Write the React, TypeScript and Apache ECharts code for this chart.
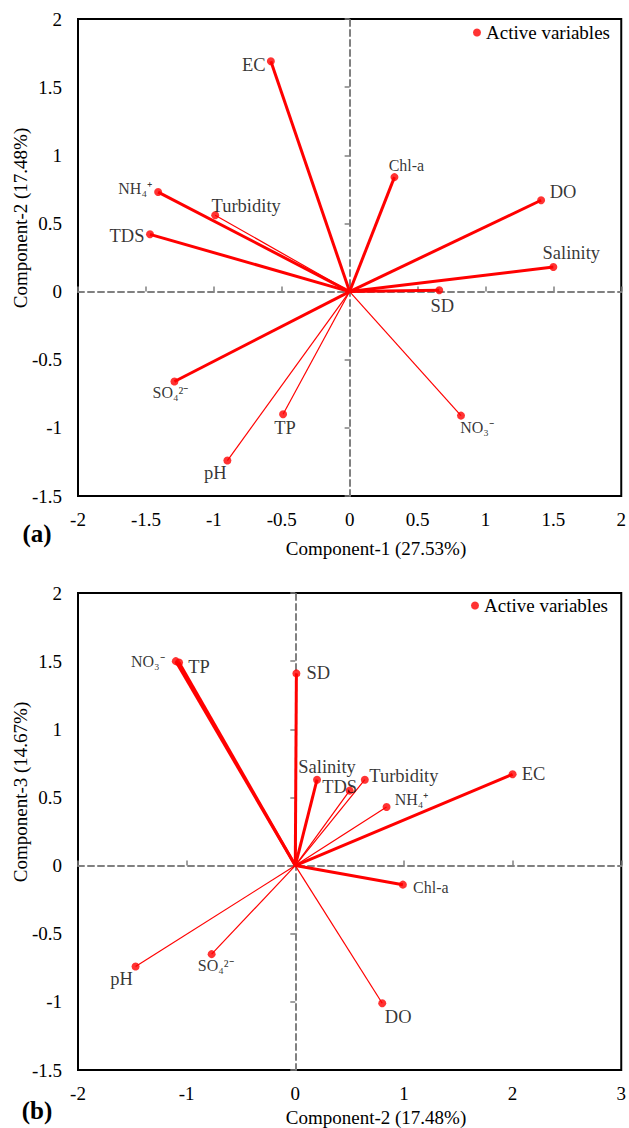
import React, { useEffect, useRef } from "react";
import * as echarts from "echarts";

// ---- Panel (a): Component-1 vs Component-2 ----
const namesA = ["EC", "Chl-a", "DO", "Salinity", "SD", "NO₃⁻", "TP", "pH", "SO₄²⁻", "TDS", "Turbidity", "NH₄⁺"];
const comp1A = [-0.58, 0.33, 1.41, 1.5, 0.66, 0.82, -0.49, -0.9, -1.29, -1.47, -0.99, -1.41];
const comp2A = [1.69, 0.84, 0.67, 0.18, 0.01, -0.91, -0.9, -1.24, -0.66, 0.42, 0.56, 0.73];

// ---- Panel (b): Component-2 vs Component-3 ----
const namesB = ["NO₃⁻", "TP", "SD", "Salinity", "TDS", "Turbidity", "NH₄⁺", "EC", "Chl-a", "SO₄²⁻", "pH", "DO"];
const comp2B = [-1.1, -1.07, 0.01, 0.2, 0.5, 0.64, 0.84, 2.0, 0.99, -0.77, -1.47, 0.8];
const comp3B = [1.5, 1.49, 1.41, 0.63, 0.55, 0.63, 0.43, 0.67, -0.14, -0.65, -0.74, -1.01];

// axis tick settings
const xTicksA = { min: -2, max: 2, interval: 0.5 };
const yTicksA = { min: -1.5, max: 2, interval: 0.5 };
const xTicksB = { min: -2, max: 3, interval: 1 };
const yTicksB = { min: -1.5, max: 2, interval: 0.5 };

const titles = {
  xA: "Component-1 (27.53%)",
  yA: "Component-2 (17.48%)",
  xB: "Component-2 (17.48%)",
  yB: "Component-3 (14.67%)",
  legend: "Active variables",
};

// ---- styles (kept apart from the data) ----
const thickA = [true, true, true, true, true, false, false, false, true, true, false, true];
const thickB = [true, true, true, true, false, false, false, true, true, false, false, false];
const smallA = [false, true, false, false, false, true, false, false, true, false, false, true];
const smallB = [true, false, false, false, false, false, true, false, true, true, false, false];
const offsetsA = [[-17, 4], [12, -12], [22, -8], [18, -14], [3, 16], [16, 12], [2, 14], [-12, 12], [-4, 11], [-23, 2], [31, -9], [-23, -4]];
const offsetsB = [[-28, 0], [20, 4], [22, 0], [10, -13], [-10, -4], [39, -4], [25, -7], [21, 0], [28, 3], [4, 11], [-14, 13], [16, 14]];

const FONT = "'Liberation Serif', 'Times New Roman', serif";
const RED = "#ff0000";
const GRAY = "#808080";

function buildAxes(gridIndex: number, xt: any, yt: any) {
  const labelStyle = { fontSize: 19, fontFamily: FONT, color: "#000" };
  const xAxes = [
    {
      type: "value", gridIndex, position: "bottom", ...xt,
      axisLine: { show: false, onZero: false }, axisTick: { show: false }, splitLine: { show: false },
      axisLabel: { ...labelStyle, margin: 14 },
    },
    {
      type: "value", gridIndex, position: "bottom", ...xt,
      axisLine: { show: true, onZero: true, lineStyle: { color: GRAY, width: 2, type: [6, 4] } },
      axisTick: { show: true, inside: true, length: 5, lineStyle: { color: GRAY, width: 1.5 } },
      axisLabel: { show: false }, splitLine: { show: false },
    },
  ];
  const yAxes = [
    {
      type: "value", gridIndex, position: "left", ...yt,
      axisLine: { show: false, onZero: false }, axisTick: { show: false }, splitLine: { show: false },
      axisLabel: { ...labelStyle, margin: 16 },
    },
    {
      type: "value", gridIndex, position: "left", ...yt,
      axisLine: { show: true, onZero: true, lineStyle: { color: GRAY, width: 2, type: [6, 4] } },
      axisTick: { show: true, inside: false, length: 5, lineStyle: { color: GRAY, width: 1.5 } },
      axisLabel: { show: false }, splitLine: { show: false },
    },
  ];
  return { xAxes, yAxes };
}

function buildSeries(axisIndex: number, names: string[], xs: number[], ys: number[], thick: boolean[], small: boolean[], offs: number[][]) {
  const lines = {
    type: "lines",
    coordinateSystem: "cartesian2d",
    xAxisIndex: axisIndex,
    yAxisIndex: axisIndex,
    z: 3,
    silent: true,
    data: names.map((n, i) => ({
      name: n,
      coords: [[0, 0], [xs[i], ys[i]]],
      lineStyle: { color: RED, width: thick[i] ? 3 : 1.2, opacity: 1 },
    })),
  };
  const pts = {
    type: "scatter",
    name: titles.legend,
    xAxisIndex: axisIndex,
    yAxisIndex: axisIndex,
    z: 4,
    symbol: "circle",
    symbolSize: 8,
    itemStyle: { color: RED },
    label: {
      show: true,
      position: "inside",
      align: "center",
      verticalAlign: "middle",
      color: "#000",
      fontFamily: FONT,
      fontSize: 18.5,
      formatter: (p: any) => p.name,
    },
    data: names.map((n, i) => ({
      name: n,
      value: [xs[i], ys[i]],
      label: { offset: offs[i], fontSize: small[i] ? 16 : 18.5 },
    })),
  };
  return [lines, pts];
}

export default function App() {
  const ref = useRef<HTMLDivElement>(null);
  useEffect(() => {
    if (!ref.current) return;
    const chart = echarts.init(ref.current, undefined, { renderer: "svg" });
    const a = buildAxes(0, xTicksA, yTicksA);
    const b = buildAxes(1, xTicksB, yTicksB);
    const legendBase = {
      data: [titles.legend],
      icon: "circle",
      itemWidth: 8,
      itemHeight: 8,
      padding: 0,
      selectedMode: false,
      textStyle: { fontSize: 19, fontFamily: FONT, color: "#000" },
    };
    const textStyle = (t: string, size: number, bold = false) => ({
      text: t,
      fontSize: size,
      fontFamily: FONT,
      fontWeight: bold ? "bold" : "normal",
      fill: "#000",
      textAlign: "center",
      textVerticalAlign: "middle",
    });
    chart.setOption({
      animation: false,
      backgroundColor: "#fff",
      grid: [
        { left: 78, top: 19, width: 545, height: 477, show: true, borderColor: "#000", borderWidth: 2, backgroundColor: "transparent" },
        { left: 78, top: 593, width: 545, height: 477, show: true, borderColor: "#000", borderWidth: 2, backgroundColor: "transparent" },
      ],
      xAxis: [...a.xAxes, ...b.xAxes],
      yAxis: [...a.yAxes, ...b.yAxes],
      legend: [
        { ...legendBase, left: 473, top: 23 },
        { ...legendBase, left: 471, top: 596 },
      ],
      series: [
        ...buildSeries(0, namesA, comp1A, comp2A, thickA, smallA, offsetsA),
        ...buildSeries(2, namesB, comp2B, comp3B, thickB, smallB, offsetsB),
      ],
      graphic: [
        { type: "text", x: 376, y: 548, style: textStyle(titles.xA, 19) },
        { type: "text", x: 20, y: 218, rotation: Math.PI / 2, style: textStyle(titles.yA, 19) },
        { type: "text", x: 37, y: 533, style: textStyle("(a)", 25, true) },
        { type: "text", x: 376, y: 1117, style: textStyle(titles.xB, 19) },
        { type: "text", x: 20, y: 792, rotation: Math.PI / 2, style: textStyle(titles.yB, 19) },
        { type: "text", x: 37, y: 1110, style: textStyle("(b)", 25, true) },
      ],
    });
    return () => chart.dispose();
  }, []);
  return <div ref={ref} style={{ position: "absolute", left: 0, top: 0, width: 629, height: 1128 }} />;
}
